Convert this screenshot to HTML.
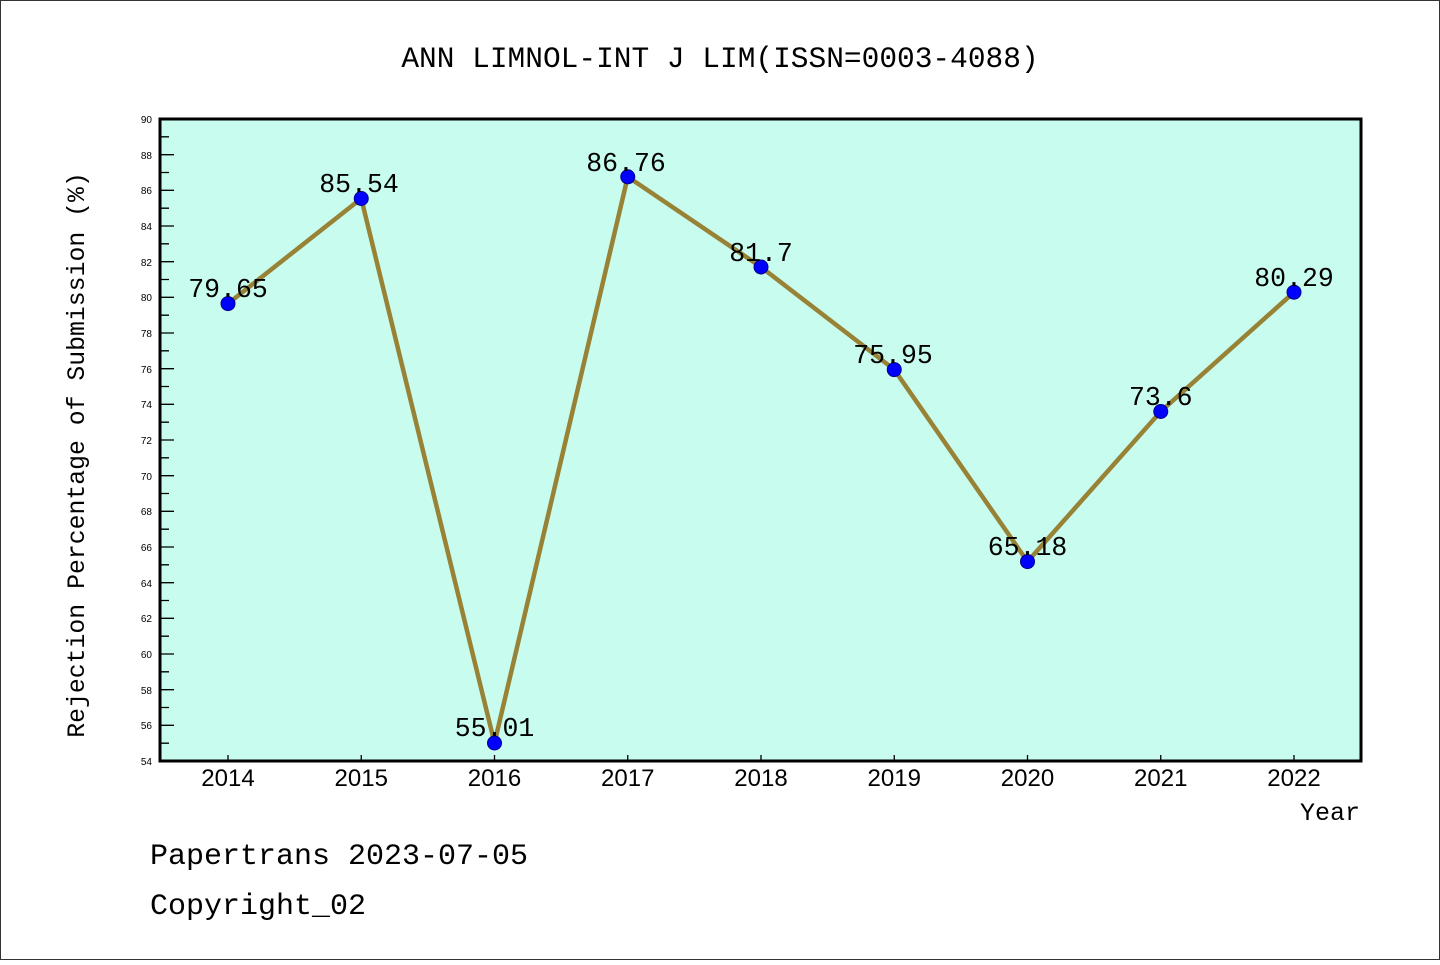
<!DOCTYPE html>
<html><head><style>html,body{margin:0;padding:0;background:#fff}</style></head><body>
<svg width="1440" height="960" xmlns="http://www.w3.org/2000/svg" font-family="'Liberation Mono', monospace">
<rect x="0.5" y="0.5" width="1439" height="959" fill="#fff" stroke="#333" stroke-width="1"/>
<text x="720" y="67" font-size="29.5" text-anchor="middle" fill="#000">ANN LIMNOL-INT J LIM(ISSN=0003-4088)</text>
<rect x="160" y="119" width="1201" height="642" fill="#c8fcee"/>
<g stroke="#000" stroke-width="1.3">
<path d="M160 743.2h9M160 725.3h14M160 707.5h9M160 689.7h14M160 671.8h9M160 654h14M160 636.2h9M160 618.3h14M160 600.5h9M160 582.7h14M160 564.8h9M160 547h14M160 529.2h9M160 511.3h14M160 493.5h9M160 475.7h14M160 457.8h9M160 440h14M160 422.2h9M160 404.3h14M160 386.5h9M160 368.7h14M160 350.8h9M160 333h14M160 315.2h9M160 297.3h14M160 279.5h9M160 261.7h14M160 243.8h9M160 226h14M160 208.2h9M160 190.3h14M160 172.5h9M160 154.7h14M160 136.8h9"/>
<path d="M228 761v-6M361.25 761v-6M494.5 761v-6M627.75 761v-6M761 761v-6M894.25 761v-6M1027.5 761v-6M1160.75 761v-6M1294 761v-6"/>
</g>
<rect x="160" y="119" width="1201" height="642" fill="none" stroke="#000" stroke-width="3"/>
<g font-family="'Liberation Sans', sans-serif" font-size="10" text-anchor="end" fill="#000">
<text x="152" y="765">54</text><text x="152" y="729">56</text><text x="152" y="694">58</text><text x="152" y="658">60</text><text x="152" y="622">62</text><text x="152" y="587">64</text><text x="152" y="551">66</text><text x="152" y="515">68</text><text x="152" y="480">70</text><text x="152" y="444">72</text><text x="152" y="408">74</text><text x="152" y="373">76</text><text x="152" y="337">78</text><text x="152" y="301">80</text><text x="152" y="266">82</text><text x="152" y="230">84</text><text x="152" y="194">86</text><text x="152" y="159">88</text><text x="152" y="123">90</text>
</g>
<g font-family="'Liberation Sans', sans-serif" font-size="24" text-anchor="middle" fill="#000">
<text x="228" y="786">2014</text><text x="361.25" y="786">2015</text><text x="494.5" y="786">2016</text><text x="627.75" y="786">2017</text><text x="761" y="786">2018</text><text x="894.25" y="786">2019</text><text x="1027.5" y="786">2020</text><text x="1160.75" y="786">2021</text><text x="1294" y="786">2022</text>
</g>
<text x="1360" y="820" font-size="25" text-anchor="end">Year</text>
<text transform="translate(84,455) rotate(-90)" font-size="24.8" text-anchor="middle">Rejection Percentage of Submission (%)</text>
<polyline points="228,303.6 361.25,198.5 494.5,743 627.75,176.8 761,267 894.25,369.6 1027.5,561.6 1160.75,411.5 1294,292.2" fill="none" stroke="#978236" stroke-width="4.5" stroke-linejoin="round"/>
<g fill="#0000ff" stroke="#00008b" stroke-width="1">
<circle cx="228" cy="303.6" r="7"/><circle cx="361.25" cy="198.5" r="7"/><circle cx="494.5" cy="743" r="7"/><circle cx="627.75" cy="176.8" r="7"/><circle cx="761" cy="267" r="7"/><circle cx="894.25" cy="369.6" r="7"/><circle cx="1027.5" cy="561.6" r="7"/><circle cx="1160.75" cy="411.5" r="7"/><circle cx="1294" cy="292.2" r="7"/>
</g>
<g font-size="26.5" text-anchor="middle" fill="#000">
<text x="228" y="297">79.65</text><text x="359" y="192">85.54</text><text x="494.5" y="736">55.01</text><text x="626" y="171">86.76</text><text x="761" y="261">81.7</text><text x="893" y="363">75.95</text><text x="1027.5" y="555">65.18</text><text x="1160.75" y="405">73.6</text><text x="1294" y="286">80.29</text>
</g>
<text x="150" y="864" font-size="30">Papertrans 2023-07-05</text>
<text x="150" y="914" font-size="30">Copyright_02</text>
</svg>
</body></html>
